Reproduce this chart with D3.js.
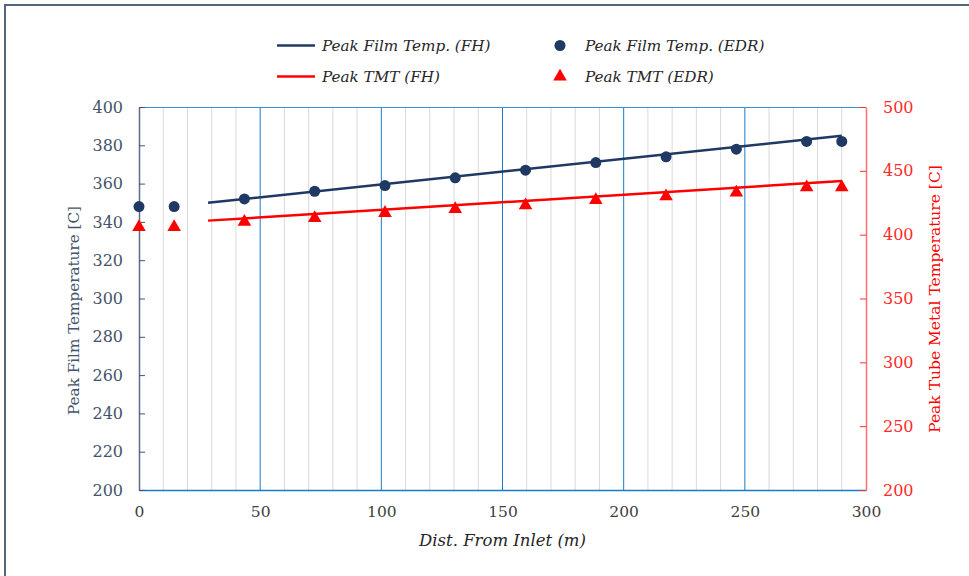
<!DOCTYPE html>
<html>
<head>
<meta charset="utf-8">
<script src="https://cdn.jsdelivr.net/npm/d3@7"></script>
<style>
  html, body { margin: 0; padding: 0; background: #fff; }
  svg { display: block; }
</style>
</head>
<body>
<svg id="chart" width="969" height="576"></svg>
<script>
// ---- data ----
const distEDR = [0, 14.5, 43.5, 72.5, 101.5, 130.5, 159.5, 188.5, 217.5, 246.5, 275.5, 290];
const filmEDR = [348, 348, 352, 356, 359, 363, 367, 371, 374, 378, 382, 382];
const tmtEDR  = [406, 406, 410, 413, 417, 420, 423, 427, 430, 433, 437, 437];
const distFH  = [28.5, 290];
const filmFH  = [350, 385];
const tmtFH   = [411, 442];
const xTicks      = [0, 50, 100, 150, 200, 250, 300];
const xMinorTicks = [10, 20, 30, 40, 60, 70, 80, 90, 110, 120, 130, 140, 160, 170, 180, 190, 210, 220, 230, 240, 260, 270, 280, 290];
const yLeftTicks  = [200, 220, 240, 260, 280, 300, 320, 340, 360, 380, 400];
const yRightTicks = [200, 250, 300, 350, 400, 450, 500];
const legendNames = ["Peak Film Temp. (FH)", "Peak TMT (FH)", "Peak Film Temp. (EDR)", "Peak TMT (EDR)"];

// ---- style ----
const navy = "#1f3864", red = "#ff0000";
const M = { left: 139, right: 866, top: 107, bottom: 490 };
const svg = d3.select("#chart");

// frame
svg.append("path").attr("d", "M5,576 L5,5 L969,5")
  .attr("fill", "none").attr("stroke", "#55657a").attr("stroke-width", 2);

const x  = d3.scaleLinear().domain([0, 300]).range([M.left, M.right]);
const yL = d3.scaleLinear().domain([200, 400]).range([M.bottom, M.top]);
const yR = d3.scaleLinear().domain([200, 500]).range([M.bottom, M.top]);

// minor grid
svg.append("g").selectAll("line").data(xMinorTicks).join("line")
  .attr("x1", d => x(d)).attr("x2", d => x(d))
  .attr("y1", M.top).attr("y2", M.bottom)
  .attr("stroke", "#d9d9d9").attr("stroke-width", 1);
// major grid
svg.append("g").selectAll("line").data(xTicks.filter(d => d > 0 && d < 300)).join("line")
  .attr("x1", d => x(d)).attr("x2", d => x(d))
  .attr("y1", M.top).attr("y2", M.bottom)
  .attr("stroke", "#1a7cc9").attr("stroke-width", 1);
// top border
svg.append("line").attr("x1", M.left).attr("x2", M.right).attr("y1", M.top + 0.5).attr("y2", M.top + 0.5)
  .attr("stroke", "#3d8fd6").attr("stroke-width", 1);

// bottom axis
const gx = svg.append("g").attr("transform", `translate(0,${M.bottom})`)
  .call(d3.axisBottom(x).tickValues(xTicks).tickSize(0).tickPadding(16));
gx.select(".domain").attr("stroke", "#1a7cc9").attr("stroke-width", 1.5);
gx.selectAll("text").attr("fill", "#404040").style("font-family", "'DejaVu Serif'").style("font-size", "15.5px");

// left axis
const gl = svg.append("g").attr("transform", `translate(${M.left},0)`)
  .call(d3.axisLeft(yL).tickValues(yLeftTicks).tickSizeInner(-6).tickSizeOuter(0).tickPadding(16));
gl.select(".domain").attr("stroke", "#5a6e8c").attr("stroke-width", 1.5);
gl.selectAll(".tick line").attr("stroke", "#44546a");
gl.selectAll("text").attr("fill", "#44546a").style("font-family", "'DejaVu Serif'").style("font-size", "16px");

// right axis
const gr = svg.append("g").attr("transform", `translate(${M.right},0)`)
  .call(d3.axisRight(yR).tickValues(yRightTicks).tickSizeInner(-6).tickSizeOuter(0).tickPadding(17));
gr.select(".domain").attr("stroke", "#ff7070").attr("stroke-width", 1.5);
gr.selectAll(".tick line").attr("stroke", "#ff3030");
gr.selectAll("text").attr("fill", "#ff2a2a").style("font-family", "'DejaVu Serif'").style("font-size", "16px");

// axis titles
svg.append("text").attr("transform", `translate(79,${(M.top + M.bottom) / 2 + 12}) rotate(-90)`)
  .attr("text-anchor", "middle").attr("fill", "#44546a")
  .style("font-family", "'DejaVu Serif'").style("font-size", "15.2px")
  .text("Peak Film Temperature [C]");
svg.append("text").attr("transform", `translate(940,${(M.top + M.bottom) / 2 + 0.5}) rotate(-90)`)
  .attr("text-anchor", "middle").attr("fill", "#ff0000")
  .style("font-family", "'DejaVu Serif'").style("font-size", "15.5px")
  .text("Peak Tube Metal Temperature [C]");
svg.append("text").attr("x", (M.left + M.right) / 2).attr("y", 546)
  .attr("text-anchor", "middle").attr("fill", "#262626")
  .style("font-family", "'DejaVu Serif'").style("font-style", "italic").style("font-size", "16.5px")
  .text("Dist. From Inlet (m)");

// FH lines
const lineL = d3.line().x(d => x(d[0])).y(d => yL(d[1]));
const lineR = d3.line().x(d => x(d[0])).y(d => yR(d[1]));
svg.append("path").datum(d3.zip(distFH, filmFH)).attr("d", lineL)
  .attr("fill", "none").attr("stroke", navy).attr("stroke-width", 2.5);
svg.append("path").datum(d3.zip(distFH, tmtFH)).attr("d", lineR)
  .attr("fill", "none").attr("stroke", red).attr("stroke-width", 2.5);

// EDR markers
svg.append("g").selectAll("circle").data(d3.zip(distEDR, filmEDR)).join("circle")
  .attr("cx", d => x(d[0])).attr("cy", d => yL(d[1])).attr("r", 5.5).attr("fill", navy);
const tri = d3.symbol().type(d3.symbolTriangle).size(80);
svg.append("g").selectAll("path").data(d3.zip(distEDR, tmtEDR)).join("path")
  .attr("transform", d => `translate(${x(d[0])},${yR(d[1])})`).attr("d", tri).attr("fill", red);

// legend
const lg = svg.append("g").style("font-family", "'DejaVu Serif'").style("font-style", "italic").style("font-size", "15.2px");
const rows = [45.5, 76.5];
lg.append("line").attr("x1", 277).attr("x2", 315).attr("y1", rows[0]).attr("y2", rows[0]).attr("stroke", navy).attr("stroke-width", 2.5);
lg.append("line").attr("x1", 277).attr("x2", 315).attr("y1", rows[1]).attr("y2", rows[1]).attr("stroke", red).attr("stroke-width", 2.5);
lg.append("circle").attr("cx", 560).attr("cy", rows[0]).attr("r", 5.5).attr("fill", navy);
lg.append("path").attr("transform", `translate(560,${rows[1]})`).attr("d", tri).attr("fill", red);
const lx = [322, 322, 585, 585], ly = [rows[0], rows[1], rows[0], rows[1]];
legendNames.forEach((n, i) => {
  lg.append("text").attr("x", lx[i]).attr("y", ly[i] + 5).attr("fill", "#262626").text(n);
});
</script>
</body>
</html>
